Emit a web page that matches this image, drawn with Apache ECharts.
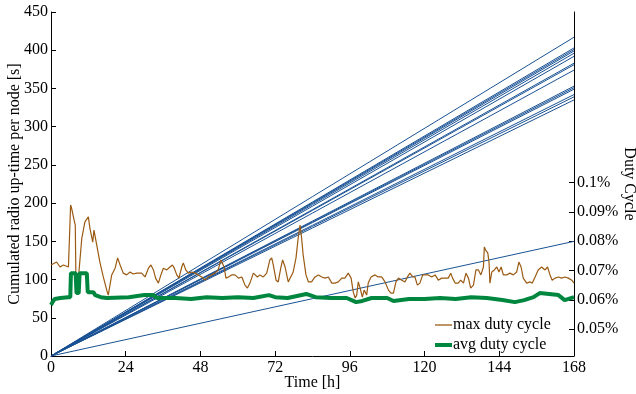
<!DOCTYPE html>
<html>
<head>
<meta charset="utf-8">
<script src="https://cdn.jsdelivr.net/npm/echarts@6/dist/echarts.min.js"></script>
<style>
  html, body { margin: 0; padding: 0; background: #fff; }
  #chart { width: 636px; height: 394px; }
</style>
</head>
<body>
<div id="chart"></div>
<script>
// cumulated up-time per node at t = 168 h (lines start at 0)
const upTimeEnd = [417, 403, 401, 399, 396, 392, 383, 381, 374, 353, 351, 349, 342, 339, 335, 150];
const hourEnd = 168;

// max duty cycle [%]
const maxT = [0, 1.8, 2.9, 4.0, 5.6, 6.1, 6.3, 6.6, 7.4, 7.8, 8.0, 8.8, 9.9, 10.9, 12.0, 12.5, 13.1, 13.4, 13.8, 14.7,
  15.7, 16.8, 17.9, 18.4, 19.5, 20.6, 21.4, 22.2, 23.2, 24.3, 25.4, 26.4, 27.5,
  28.0, 29.1, 30.2, 31.3, 32.1, 32.9, 33.6, 34.5, 35.3, 36.1, 37.2, 38.2, 39.0, 39.6, 40.4, 41.1, 42.0, 42.5, 43.3, 44.1,
  45.2, 46.3, 47.3, 48.4, 49.5, 50.5, 51.6, 52.7, 53.7, 54.6,
  55.6, 56.2, 57.0, 58.0, 59.1, 60.2, 61.3, 62.3, 63.1, 63.9, 65.0, 65.5, 66.3, 67.1, 68.2, 69.3, 70.3, 70.9, 71.4, 72.3,
  73.0, 73.8, 74.4, 75.2, 76.2, 76.8, 77.8, 78.7, 79.4, 80.0, 80.5, 81.0, 81.9, 82.7,
  83.7, 84.8, 85.9, 87.0, 88.0, 89.1, 90.2, 91.2, 92.3, 93.4, 94.4, 95.5, 96.4, 97.1, 97.7, 98.2, 98.7, 99.3, 100.0, 100.6,
  101.4, 101.9, 102.8, 104.1, 105.1, 106.2, 107.3, 108.4, 109.2,
  110.0, 110.8, 111.6, 112.7, 113.7, 114.5, 115.3, 116.2, 116.9, 117.7, 118.5, 119.4, 120.1, 121.2, 122.3, 123.4, 124.4, 125.5, 126.6, 127.6,
  128.4, 129.0, 129.8, 130.8, 131.6, 132.5, 133.3, 134.1, 134.8, 135.7, 136.5, 136.9,
  137.3, 138.1, 138.9, 139.2, 139.6, 140.3, 140.7, 141.0, 141.6, 142.4, 143.2, 143.9, 144.6, 145.3, 146.4, 147.4, 148.5, 149.6, 150.3, 151.0,
  151.7, 152.8, 153.9, 154.6, 155.5, 156.5, 157.6, 158.7, 159.5, 160.3, 161.0, 161.9, 163.0, 164.0, 165.1, 166.2, 167.3, 168];
const maxDc = [0.0719, 0.0729, 0.0712, 0.0719, 0.0712, 0.0712, 0.0924, 0.0914, 0.0873, 0.0855, 0.0674, 0.0674, 0.0811, 0.0866, 0.0883, 0.0845, 0.0849, 0.0797, 0.0838, 0.0787,
  0.0729, 0.0678, 0.0633, 0.0616, 0.0685, 0.0708, 0.0743, 0.0719, 0.0691, 0.0685, 0.0695, 0.0688, 0.0691,
  0.0685, 0.0691, 0.0678, 0.0708, 0.0719, 0.0702, 0.0674, 0.0657, 0.0685, 0.0708, 0.0702, 0.0712, 0.0719, 0.0708, 0.0685, 0.0674, 0.0712, 0.0726, 0.0702, 0.0691,
  0.0695, 0.0691, 0.0685, 0.0678, 0.0667, 0.0678, 0.0685, 0.0691, 0.0702, 0.0736,
  0.0712, 0.0674, 0.0678, 0.0685, 0.0685, 0.0674, 0.0678, 0.0650, 0.0640, 0.0657, 0.0691, 0.0695, 0.0678, 0.0685, 0.0678, 0.0691, 0.0736, 0.0743, 0.0719, 0.0667,
  0.0661, 0.0708, 0.0736, 0.0712, 0.0661, 0.0657, 0.0695, 0.0743, 0.0811, 0.0855, 0.0811, 0.0753, 0.0685, 0.0661,
  0.0661, 0.0678, 0.0685, 0.0678, 0.0674, 0.0678, 0.0657, 0.0657, 0.0661, 0.0674, 0.0674, 0.0691, 0.0674, 0.0626, 0.0606, 0.0616, 0.0661, 0.0640, 0.0609, 0.0633,
  0.0616, 0.0657, 0.0678, 0.0685, 0.0678, 0.0678, 0.0661, 0.0633, 0.0623,
  0.0623, 0.0661, 0.0674, 0.0667, 0.0661, 0.0678, 0.0691, 0.0678, 0.0678, 0.0650, 0.0657, 0.0685, 0.0685, 0.0685, 0.0678, 0.0685, 0.0667, 0.0674, 0.0674, 0.0674,
  0.0691, 0.0674, 0.0657, 0.0657, 0.0667, 0.0657, 0.0691, 0.0674, 0.0640, 0.0650, 0.0702, 0.0708,
  0.0702, 0.0685, 0.0712, 0.0780, 0.0770, 0.0760, 0.0729, 0.0657, 0.0695, 0.0702, 0.0712, 0.0695, 0.0712, 0.0685, 0.0685, 0.0691, 0.0685, 0.0695, 0.0729, 0.0712,
  0.0674, 0.0657, 0.0661, 0.0657, 0.0678, 0.0702, 0.0712, 0.0702, 0.0712, 0.0685, 0.0667, 0.0674, 0.0678, 0.0674, 0.0678, 0.0674, 0.0667, 0.0657];

// avg duty cycle [%]
const avgT = [0, 0.5, 1.2, 3, 5.5, 6.2, 6.4, 7.9, 8.2, 8.9, 9.2, 11.5, 11.8, 13.6, 14.2, 16, 18, 25, 30, 31,
  33, 34, 40, 45, 50, 55, 60, 65, 70, 72, 76, 79, 82, 85, 90, 95, 98, 100, 103, 108,
  110, 115, 120, 125, 130, 135, 140, 145, 149, 152, 155, 157, 160, 163, 165, 168];
const avgDc = [0.0582, 0.0592, 0.0603, 0.0606, 0.0609, 0.0609, 0.0691, 0.0691, 0.0623, 0.0623, 0.0691, 0.0691, 0.0626, 0.0626, 0.0616, 0.0609, 0.0606, 0.0609, 0.0616, 0.0616,
  0.0616, 0.0606, 0.0606, 0.0603, 0.0609, 0.0606, 0.0609, 0.0606, 0.0616, 0.0609, 0.0606, 0.0613, 0.0620, 0.0609, 0.0606, 0.0606, 0.0592, 0.0596, 0.0606, 0.0606,
  0.0596, 0.0603, 0.0603, 0.0606, 0.0603, 0.0609, 0.0606, 0.0599, 0.0592, 0.0599, 0.0609, 0.0623, 0.0620, 0.0616, 0.0599, 0.0609];

const dcTicks = [0.05, 0.06, 0.07, 0.08, 0.09, 0.1];

const font = "'Liberation Serif', 'Times New Roman', serif";
const blue = '#1a5294';
const brown = '#9b5a12';
const green = '#00873f';

const chart = echarts.init(document.getElementById('chart'));

const series = [];
upTimeEnd.forEach((v, i) => {
  series.push({
    name: 'node' + i,
    type: 'line',
    yAxisIndex: 0,
    data: [[0, 0], [hourEnd, v]],
    symbol: 'none',
    lineStyle: { color: blue, width: 1 },
    silent: true,
    z: 2
  });
});
series.push({
  name: 'max duty cycle',
  type: 'line',
  yAxisIndex: 1,
  data: maxT.map((t, i) => [t, maxDc[i]]),
  symbol: 'none',
  lineStyle: { color: brown, width: 1.2 },
  itemStyle: { color: brown },
  z: 3
});
series.push({
  name: 'avg duty cycle',
  type: 'line',
  yAxisIndex: 1,
  data: avgT.map((t, i) => [t, avgDc[i]]),
  symbol: 'none',
  lineStyle: { color: green, width: 4 },
  itemStyle: { color: green },
  z: 4
});

const axisText = { fontFamily: font, fontSize: 16, color: '#000' };

let option = {
  animation: false,
  grid: { left: 51, right: 62, top: 12, bottom: 38, containLabel: false, outerBoundsMode: 'none' },
  legend: {
    data: [
      { name: 'max duty cycle', icon: 'path://M0,0h17v1.3h-17z' },
      { name: 'avg duty cycle', icon: 'path://M0,0h17v4h-17z' }
    ],
    orient: 'vertical',
    left: 430,
    top: 312,
    itemWidth: 17,
    itemHeight: 10,
    itemGap: 4,
    textStyle: { fontFamily: font, fontSize: 16, color: '#000', padding: [0, 0, 0, -4] }
  },
  xAxis: {
    type: 'value',
    min: 0,
    max: 168,
    interval: 24,
    name: 'Time [h]',
    nameLocation: 'middle',
    nameGap: 19,
    nameMoveOverlap: false,
    nameTextStyle: axisText,
    axisLine: { lineStyle: { color: '#000', width: 1 } },
    axisTick: { inside: true, length: 5, lineStyle: { color: '#000' } },
    axisLabel: Object.assign({ margin: 4 }, axisText),
    splitLine: { show: false }
  },
  yAxis: [
    {
      type: 'value',
      position: 'left',
      min: 0,
      max: 450,
      interval: 50,
      name: 'Cumulated radio up-time per node [s]',
      nameLocation: 'middle',
      nameGap: 28,
      nameMoveOverlap: false,
      nameTextStyle: axisText,
      axisLine: { show: true, lineStyle: { color: '#000', width: 1 } },
      axisTick: { show: true, inside: true, length: 5, lineStyle: { color: '#000' } },
      axisLabel: Object.assign({ margin: 3 }, axisText),
      splitLine: { show: false }
    },
    {
      type: 'value',
      position: 'right',
      min: 0.0408,
      max: 0.1583,
      name: 'Duty Cycle',
      nameLocation: 'middle',
      nameGap: 47,
      nameRotate: -90,
      nameMoveOverlap: false,
      nameTextStyle: axisText,
      axisLine: { show: true, lineStyle: { color: '#000', width: 1 } },
      axisTick: { show: true, inside: true, length: 5, customValues: dcTicks, lineStyle: { color: '#000' } },
      axisLabel: Object.assign({
        margin: 3,
        customValues: dcTicks,
        formatter: v => (+v.toFixed(2)) + '%'
      }, axisText),
      splitLine: { show: false }
    }
  ],
  series: series
};
chart.setOption(option);
</script>
</body>
</html>
